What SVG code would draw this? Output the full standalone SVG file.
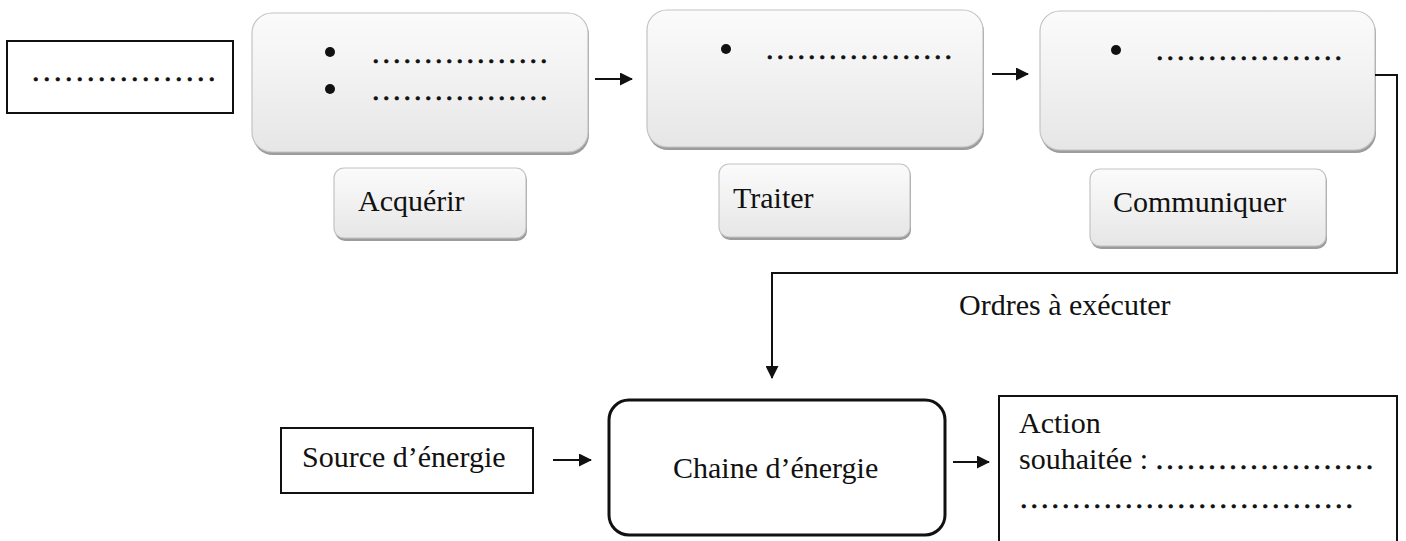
<svg xmlns="http://www.w3.org/2000/svg" width="1406" height="541" viewBox="0 0 1406 541">
<style>
.t{font-family:"Liberation Serif","Times New Roman",serif;font-size:30px;fill:#111}
.dots{font-family:"Liberation Serif","Times New Roman",serif;font-size:30px;fill:#111;letter-spacing:3px;stroke:#111;stroke-width:0.7}
.box{fill:#fff;stroke:#111;stroke-width:2}
.soft{fill:url(#g);stroke:#c4c4c4;stroke-width:1.2}
.sh{fill:#9c9c9c}
.conn{fill:none;stroke:#111;stroke-width:2}
</style>
<defs>
<linearGradient id="g" x1="0" y1="0" x2="0" y2="1">
<stop offset="0" stop-color="#fbfbfb"/>
<stop offset="0.5" stop-color="#f1f1f1"/>
<stop offset="1" stop-color="#e6e6e6"/>
</linearGradient>
<marker id="ah" markerWidth="13" markerHeight="13" refX="12" refY="6.5" orient="auto" markerUnits="userSpaceOnUse">
<path d="M0,0 L13,6.5 L0,13 Z" fill="#111"/>
</marker>
</defs>
<rect width="1406" height="541" fill="#fff"/>

<g id="input">
<rect class="box" x="7" y="41" width="226" height="72"/>
<text class="dots" x="32" y="81" style="letter-spacing:3.5px">.................</text>
</g>

<g id="acquerir">
<rect class="sh" x="253" y="15" width="336" height="140" rx="20"/>
<rect class="soft" x="252" y="13" width="336" height="139" rx="20"/>
<circle cx="330" cy="52" r="5" fill="#111"/>
<circle cx="330" cy="89" r="5" fill="#111"/>
<text class="dots" x="372" y="63">.................</text>
<text class="dots" x="372" y="100">.................</text>
</g>
<g id="acquerir-label">
<rect class="sh" x="335" y="170" width="192" height="71" rx="10"/>
<rect class="soft" x="334" y="168" width="192" height="70" rx="10"/>
<text class="t" x="358" y="211">Acquérir</text>
</g>

<g id="traiter">
<rect class="sh" x="648" y="12" width="336" height="138" rx="20"/>
<rect class="soft" x="647" y="10" width="336" height="137" rx="20"/>
<circle cx="726" cy="49" r="5" fill="#111"/>
<text class="dots" x="766" y="59">..................</text>
</g>
<g id="traiter-label">
<rect class="sh" x="720" y="166" width="191" height="74" rx="10"/>
<rect class="soft" x="719" y="164" width="191" height="73" rx="10"/>
<text class="t" x="733" y="208">Traiter</text>
</g>

<g id="communiquer">
<rect class="sh" x="1041" y="13" width="335" height="140" rx="20"/>
<rect class="soft" x="1040" y="11" width="335" height="139" rx="20"/>
<circle cx="1116" cy="50" r="5" fill="#111"/>
<text class="dots" x="1156" y="60">..................</text>
</g>
<g id="communiquer-label">
<rect class="sh" x="1091" y="171" width="236" height="78" rx="10"/>
<rect class="soft" x="1090" y="169" width="236" height="77" rx="10"/>
<text class="t" x="1113" y="212">Communiquer</text>
</g>

<g id="source">
<rect class="box" x="281" y="428" width="252" height="65"/>
<text class="t" x="302" y="467">Source d’énergie</text>
</g>

<g id="chaine">
<rect x="609" y="400" width="336" height="135" rx="20" fill="#fff" stroke="#111" stroke-width="3"/>
<text class="t" x="673" y="478">Chaine d’énergie</text>
</g>

<g id="action">
<rect class="box" x="999" y="396" width="398" height="170"/>
<text class="t" x="1019" y="433">Action</text>
<text class="t" x="1019" y="469">souhaitée : <tspan style="letter-spacing:3px;stroke:#111;stroke-width:0.7">.....................</tspan></text>
<text class="dots" x="1020" y="508">................................</text>
</g>

<g id="connectors">
<line class="conn" x1="595" y1="79" x2="632" y2="79" marker-end="url(#ah)"/>
<line class="conn" x1="992" y1="74" x2="1028" y2="74" marker-end="url(#ah)"/>
<path class="conn" d="M1375,75 H1397 V273 H772 V378" marker-end="url(#ah)"/>
<line class="conn" x1="553" y1="460" x2="591" y2="460" marker-end="url(#ah)"/>
<line class="conn" x1="953" y1="462" x2="989" y2="462" marker-end="url(#ah)"/>
<text class="t" x="959" y="315">Ordres à exécuter</text>
</g>
</svg>
